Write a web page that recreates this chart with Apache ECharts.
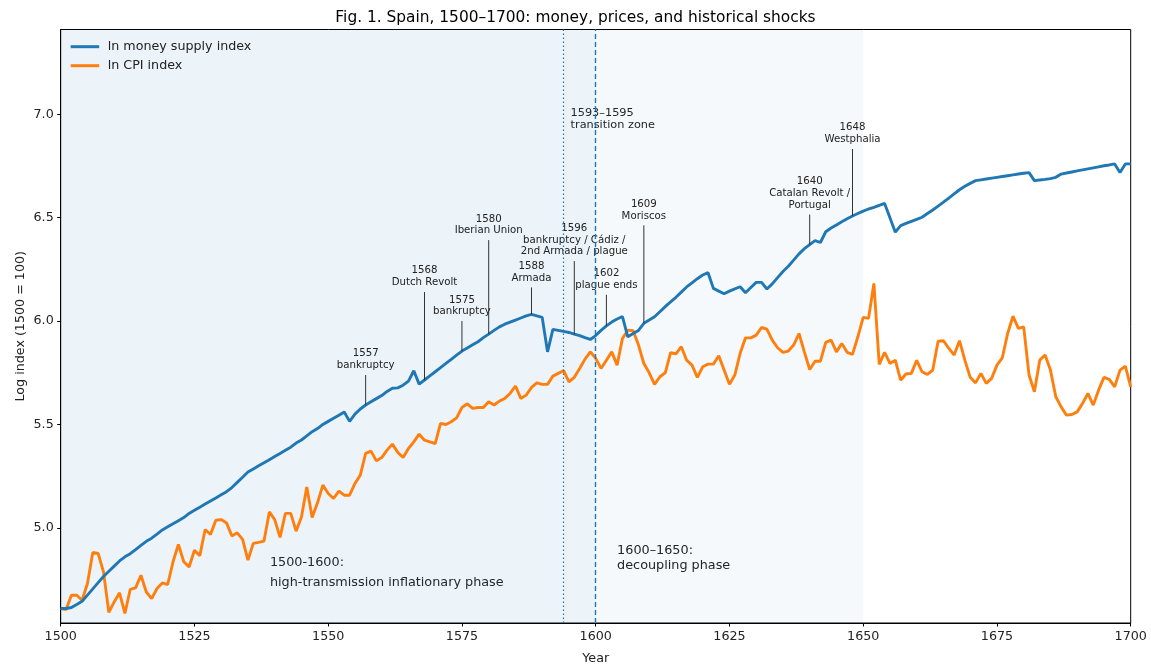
<!DOCTYPE html>
<html>
<head>
<meta charset="utf-8">
<script src="https://cdn.jsdelivr.net/npm/echarts@6/dist/echarts.min.js"></script>
<style>
  html, body { margin: 0; padding: 0; background: #fff; }
  #chart { width: 1151px; height: 665px; }
</style>
</head>
<body>
<div id="chart"></div>
<script>
// ---------- data ----------
const startYear = 1500;
const endYear = 1700;
const years = [];
for (let y = startYear; y <= endYear; y++) years.push(y);

const moneySupply = [
  4.61, 4.61, 4.615, 4.63, 4.645, 4.675, 4.705, 4.735, 4.765, 4.79,
  4.815, 4.84, 4.86, 4.875, 4.895, 4.915, 4.935, 4.95, 4.97, 4.99,
  5.005, 5.02, 5.035, 5.05, 5.07, 5.085, 5.1, 5.115, 5.13, 5.145,
  5.16, 5.175, 5.195, 5.22, 5.245, 5.27, 5.285, 5.3, 5.315, 5.33,
  5.345, 5.36, 5.375, 5.39, 5.41, 5.425, 5.445, 5.465, 5.48, 5.5,
  5.515, 5.53, 5.545, 5.56, 5.515, 5.55, 5.575, 5.594, 5.61, 5.625,
  5.64, 5.66, 5.675, 5.677, 5.69, 5.71, 5.76, 5.695, 5.715, 5.735,
  5.755, 5.775, 5.795, 5.815, 5.835, 5.855, 5.87, 5.885, 5.9, 5.92,
  5.937, 5.955, 5.972, 5.985, 5.995, 6.005, 6.015, 6.025, 6.032, 6.025,
  6.018, 5.851, 5.96, 5.955, 5.95, 5.945, 5.937, 5.93, 5.92, 5.911,
  5.93, 5.955, 5.977, 5.995, 6.01, 6.022, 5.924, 5.94, 5.955, 5.989,
  6.005, 6.021, 6.045, 6.07, 6.093, 6.115, 6.14, 6.165, 6.185, 6.205,
  6.223, 6.234, 6.158, 6.145, 6.132, 6.145, 6.156, 6.166, 6.137, 6.162,
  6.187, 6.187, 6.155, 6.18, 6.21, 6.24, 6.265, 6.295, 6.325, 6.35,
  6.37, 6.389, 6.38, 6.432, 6.45, 6.465, 6.48, 6.495, 6.508, 6.52,
  6.532, 6.542, 6.55, 6.56, 6.569, 6.5, 6.43, 6.462, 6.472, 6.482,
  6.492, 6.502, 6.52, 6.537, 6.556, 6.575, 6.595, 6.615, 6.635, 6.652,
  6.666, 6.679, 6.683, 6.687, 6.691, 6.695, 6.699, 6.703, 6.707, 6.711,
  6.715, 6.718, 6.679, 6.682, 6.685, 6.689, 6.695, 6.711, 6.716, 6.721,
  6.726, 6.731, 6.736, 6.741, 6.746, 6.751, 6.755, 6.76, 6.718, 6.76,
  6.76
];

const cpi = [
  4.61, 4.605, 4.674, 4.674, 4.65, 4.731, 4.881, 4.876, 4.787, 4.591,
  4.642, 4.686, 4.586, 4.703, 4.71, 4.771, 4.69, 4.658, 4.707, 4.734,
  4.726, 4.836, 4.92, 4.836, 4.811, 4.892, 4.865, 4.992, 4.968, 5.037,
  5.04, 5.024, 4.961, 4.976, 4.944, 4.844, 4.925, 4.93, 4.936, 5.077,
  5.04, 4.954, 5.07, 5.07, 4.984, 5.053, 5.198, 5.05, 5.121, 5.207,
  5.166, 5.142, 5.178, 5.158, 5.158, 5.215, 5.255, 5.36, 5.371, 5.324,
  5.34, 5.376, 5.405, 5.365, 5.34, 5.384, 5.416, 5.453, 5.424, 5.416,
  5.408, 5.505, 5.5, 5.513, 5.532, 5.582, 5.6, 5.578, 5.582, 5.582,
  5.61, 5.594, 5.613, 5.626, 5.65, 5.686, 5.626, 5.642, 5.679, 5.701,
  5.694, 5.694, 5.734, 5.747, 5.76, 5.706, 5.728, 5.771, 5.816, 5.851,
  5.82, 5.771, 5.811, 5.851, 5.787, 5.916, 5.956, 5.953, 5.884, 5.795,
  5.75, 5.694, 5.731, 5.75, 5.847, 5.842, 5.876, 5.811, 5.787, 5.728,
  5.779, 5.792, 5.792, 5.832, 5.763, 5.694, 5.739, 5.844, 5.919, 5.919,
  5.932, 5.969, 5.961, 5.908, 5.871, 5.849, 5.855, 5.884, 5.94, 5.851,
  5.766, 5.806, 5.806, 5.897, 5.908, 5.851, 5.892, 5.849, 5.839, 5.924,
  6.018, 6.013, 6.182, 5.79, 5.849, 5.795, 5.811, 5.714, 5.744, 5.747,
  5.81, 5.755, 5.742, 5.763, 5.903, 5.905, 5.868, 5.836, 5.905, 5.811,
  5.728, 5.701, 5.747, 5.699, 5.723, 5.787, 5.822, 5.94, 6.024, 5.965,
  5.972, 5.739, 5.658, 5.811, 5.836, 5.763, 5.634, 5.585, 5.545, 5.548,
  5.561, 5.602, 5.65, 5.594, 5.666, 5.728, 5.718, 5.682, 5.763, 5.782,
  5.682
];

const xTicks = [1500, 1525, 1550, 1575, 1600, 1625, 1650, 1675, 1700];
const yTicks = [5.0, 5.5, 6.0, 6.5, 7.0];

const eventYears = [1557, 1568, 1575, 1580, 1588, 1596, 1602, 1609, 1640, 1648];
const eventLabels = [
  '1557\nbankruptcy',
  '1568\nDutch Revolt',
  '1575\nbankruptcy',
  '1580\nIberian Union',
  '1588\nArmada',
  '1596\nbankruptcy / Cádiz /\n2nd Armada / plague',
  '1602\nplague ends',
  '1609\nMoriscos',
  '1640\nCatalan Revolt /\nPortugal',
  '1648\nWestphalia'
];

const phases = [
  { from: 1500, to: 1600 },
  { from: 1600, to: 1650 }
];
const transitionLine = 1594;
const breakLine = 1600;

// ---------- layout / style (not data) ----------
const FONT = 'DejaVu Sans';
const leaderLengths = [30, 88, 30, 94, 27, 73, 31, 98, 30, 67]; // px
const phaseColors = ['rgba(31,119,180,0.085)', 'rgba(31,119,180,0.045)'];

const chart = echarts.init(document.getElementById('chart'), null, { renderer: 'canvas' });

const moneyData = years.map((y, i) => [y, moneySupply[i]]);
const cpiData = years.map((y, i) => [y, cpi[i]]);
const eventData = eventYears.map(y => [y, moneySupply[y - startYear]]);

const option = {
  animation: false,
  backgroundColor: '#fff',
  title: {
    text: 'Fig. 1. Spain, 1500–1700: money, prices, and historical shocks',
    left: 'center',
    top: 5,
    textStyle: { fontFamily: FONT, fontSize: 15.4, fontWeight: 'normal', color: '#000' }
  },
  legend: {
    orient: 'vertical',
    left: 70.7,
    top: 39.7,
    padding: 0,
    itemGap: 5,
    itemWidth: 28.5,
    itemHeight: 3,
    icon: 'rect',
    data: ['ln money supply index', 'ln CPI index'],
    textStyle: { fontFamily: FONT, fontSize: 12.7, color: '#222', lineHeight: 14, padding: [0, 0, 0, 3.5] }
  },
  grid: {
    left: 60.7, right: 20.3, top: 29.5, bottom: 42,
    containLabel: false,
    outerBoundsMode: 'none',
    show: true, borderColor: '#000', borderWidth: 1, backgroundColor: 'transparent'
  },
  xAxis: {
    type: 'value',
    min: startYear, max: endYear, interval: 25,
    name: 'Year', nameLocation: 'middle', nameGap: 29,
    nameTextStyle: { fontFamily: FONT, fontSize: 12.7, color: '#222' },
    axisLine: { show: true, lineStyle: { color: '#000', width: 1 } },
    axisTick: { show: true, length: 3.5, lineStyle: { color: '#000' }, customValues: xTicks },
    axisLabel: { fontFamily: FONT, fontSize: 12.7, color: '#222', margin: 7, customValues: xTicks,
      formatter: v => String(v) },
    splitLine: { show: false }
  },
  yAxis: {
    type: 'value',
    min: 4.54, max: 7.41,
    name: 'Log index (1500 = 100)', nameLocation: 'middle', nameGap: 34,
    nameMoveOverlap: false,
    nameTextStyle: { fontFamily: FONT, fontSize: 12.7, color: '#222' },
    axisLine: { show: true, lineStyle: { color: '#000', width: 1 } },
    axisTick: { show: true, length: 3.5, lineStyle: { color: '#000' }, customValues: yTicks },
    axisLabel: { fontFamily: FONT, fontSize: 12.7, color: '#222', margin: 7, customValues: yTicks,
      formatter: v => v.toFixed(1) },
    splitLine: { show: false }
  },
  series: [
    {
      name: 'ln money supply index',
      type: 'line',
      data: moneyData,
      showSymbol: false, symbol: 'none',
      lineStyle: { color: '#1f77b4', width: 2.9 },
      itemStyle: { color: '#1f77b4' },
      z: 3,
      markArea: {
        silent: true,
        data: phases.map((p, i) => [
          { xAxis: p.from, itemStyle: { color: phaseColors[i] } },
          { xAxis: p.to }
        ])
      }
    },
    {
      name: 'ln CPI index',
      type: 'line',
      data: cpiData,
      showSymbol: false, symbol: 'none',
      lineStyle: { color: '#ff7f0e', width: 2.9 },
      itemStyle: { color: '#ff7f0e' },
      z: 2,
      markLine: {
        silent: true,
        symbol: 'none',
        label: { show: false },
        data: [
          { xAxis: transitionLine, lineStyle: { color: '#1f77b4', type: [1.5, 2.5], width: 1.2, opacity: 1 } },
          { xAxis: breakLine, lineStyle: { color: '#1f77b4', type: [5, 3], width: 1.4, opacity: 1 } }
        ]
      }
    },
    {
      name: 'events',
      type: 'custom',
      data: eventData,
      encode: { x: 0, y: 1 },
      silent: true,
      clip: false,
      z: 4,
      renderItem: function (params, api) {
        const p = api.coord([api.value(0), api.value(1)]);
        const len = leaderLengths[params.dataIndex];
        return {
          type: 'group',
          children: [
            { type: 'line', shape: { x1: p[0], y1: p[1] - len, x2: p[0], y2: p[1] },
              style: { stroke: '#333', lineWidth: 1 } },
            { type: 'text', x: p[0], y: p[1] - len - 3.5,
              style: { text: eventLabels[params.dataIndex], textAlign: 'center', textVerticalAlign: 'bottom',
                fontFamily: FONT, fontSize: 10.2, lineHeight: 11.8, fill: '#222' } }
          ]
        };
      }
    }
  ]
};

chart.setOption(option);

// Free text placed from data coordinates
function px(x, y) { return chart.convertToPixel({ gridIndex: 0 }, [x, y]); }
const tz = px(1595.3, 7.034);
const ph1 = px(1539.1, 4.878);
const ph2 = px(1604, 4.928);
chart.setOption({
  graphic: [
    { type: 'text', x: tz[0], y: tz[1], silent: true,
      style: { text: '1593–1595\ntransition zone', textAlign: 'left', textVerticalAlign: 'top',
        fontFamily: FONT, fontSize: 11.3, lineHeight: 12, fill: '#222' } },
    { type: 'text', x: ph1[0], y: ph1[1], silent: true,
      style: { text: '1500-1600:\nhigh-transmission inflationary phase', textAlign: 'left', textVerticalAlign: 'top',
        fontFamily: FONT, fontSize: 12.8, lineHeight: 20, fill: '#222' } },
    { type: 'text', x: ph2[0], y: ph2[1], silent: true,
      style: { text: '1600–1650:\ndecoupling phase', textAlign: 'left', textVerticalAlign: 'top',
        fontFamily: FONT, fontSize: 12.8, lineHeight: 15.3, fill: '#222' } }
  ]
});
</script>
</body>
</html>
